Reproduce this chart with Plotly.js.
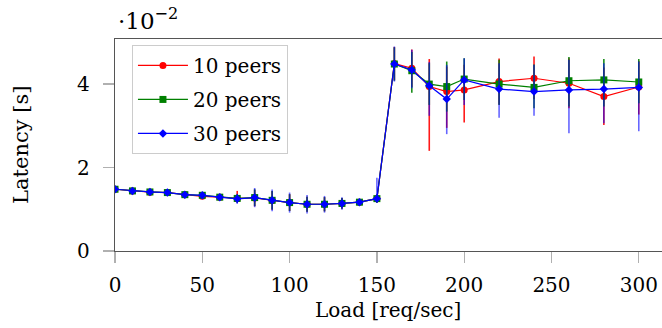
<!DOCTYPE html>
<html>
<head>
<meta charset="utf-8">
<script src="https://cdn.plot.ly/plotly-3.0.1.min.js"></script>
<style>
  html, body { margin: 0; padding: 0; background: #fff; }
  #chart { width: 662px; height: 328px; }
</style>
</head>
<body>
<div id="chart"></div>
<script>
// Load [req/sec]
const load = [0,10,20,30,40,50,60,70,80,90,100,110,120,130,140,150,160,170,180,190,200,220,240,260,280,300];

// Latency in units of 1e-2 s
const peers10 = [1.48,1.44,1.41,1.40,1.35,1.31,1.29,1.26,1.27,1.21,1.16,1.12,1.12,1.14,1.17,1.255,4.49,4.38,3.94,3.82,3.86,4.06,4.14,4.02,3.70,3.93];
const peers20 = [1.48,1.44,1.415,1.40,1.35,1.335,1.29,1.26,1.28,1.215,1.16,1.12,1.12,1.14,1.17,1.255,4.48,4.32,4.00,3.94,4.12,4.00,3.92,4.08,4.10,4.05];
const peers30 = [1.48,1.44,1.415,1.40,1.35,1.335,1.29,1.25,1.28,1.215,1.16,1.12,1.12,1.14,1.17,1.255,4.48,4.34,3.96,3.64,4.10,3.88,3.82,3.86,3.88,3.92];

// error bars (plus / minus), units of 1e-2 s
const err10Plus  = [0.04,0.04,0.04,0.04,0.04,0.06,0.05,0.18,0.2,0.22,0.2,0.18,0.17,0.13,0.06,0.1,0.4,0.45,0.66,0.6,0.6,0.55,0.52,0.6,0.7,0.62];
const err10Minus = [0.04,0.04,0.04,0.04,0.04,0.06,0.05,0.1,0.2,0.22,0.2,0.18,0.17,0.13,0.06,0.1,0.4,0.45,1.54,0.87,0.78,0.55,0.5,0.6,0.68,0.66];
const err20Plus  = [0.04,0.04,0.04,0.04,0.04,0.06,0.05,0.1,0.2,0.22,0.2,0.18,0.17,0.13,0.06,0.1,0.4,0.45,0.5,0.6,0.5,0.58,0.55,0.57,0.5,0.55];
const err20Minus = [0.04,0.04,0.04,0.04,0.04,0.06,0.05,0.1,0.2,0.22,0.2,0.18,0.17,0.13,0.06,0.1,0.4,0.53,0.5,0.6,0.5,0.5,0.5,0.62,0.64,0.51];
const err30Plus  = [0.05,0.05,0.05,0.05,0.05,0.07,0.05,0.12,0.23,0.26,0.24,0.22,0.2,0.15,0.07,0.5,0.42,0.48,0.57,0.82,0.52,0.62,0.64,0.72,0.62,0.62];
const err30Minus = [0.05,0.05,0.05,0.05,0.05,0.07,0.05,0.12,0.23,0.26,0.24,0.22,0.2,0.15,0.07,0.1,0.42,0.44,0.72,0.84,0.6,0.69,0.58,1.04,0.82,1.05];

const seriesNames = ['10 peers','20 peers','30 peers'];
const yTickVals = [0,2,4];
const yTickText = ['0','2','4'];
const xTickVals = [0,50,100,150,200,250,300];

const FONT = 'DejaVu Serif, Liberation Serif, serif';

function trace(name, y, ep, em, color, errColor, symbol, size, group) {
  return {
    type: 'scatter', mode: 'lines+markers', name: name, legendgroup: group,
    x: load, y: y,
    line: {color: color, width: 1.2},
    marker: {color: color, symbol: symbol, size: size},
    error_y: {type: 'data', symmetric: false, array: ep, arrayminus: em,
              color: errColor, thickness: 1.6, width: 0}
  };
}

const data = [
  trace(seriesNames[0], peers10, err10Plus, err10Minus, '#ff0000', 'rgba(255,0,0,0.9)', 'circle', 7, 'a'),
  trace(seriesNames[1], peers20, err20Plus, err20Minus, '#008000', 'rgba(0,128,0,0.9)', 'square', 7, 'b'),
  trace(seriesNames[2], peers30, err30Plus, err30Minus, '#0000ff', 'rgba(0,0,255,0.6)', 'diamond', 6.5, 'c')
];

const layout = {
  width: 662, height: 328,
  margin: {l: 115, r: 0, t: 39, b: 77, pad: 0},
  paper_bgcolor: '#ffffff', plot_bgcolor: '#ffffff',
  font: {family: FONT, size: 20, color: '#000'},
  showlegend: true,
  legend: {
    x: 0.031, y: 0.972, xanchor: 'left', yanchor: 'top',
    bgcolor: '#ffffff', bordercolor: '#cccccc', borderwidth: 1,
    font: {family: FONT, size: 20, color: '#000'},
    itemwidth: 50, traceorder: 'grouped', tracegroupgap: 5
  },
  xaxis: {
    range: [0, 313.3], autorange: false,
    tickvals: xTickVals,
    ticks: 'outside', ticklen: 11, tickwidth: 1.3, tickcolor: '#b0b0b0',
    showline: true, linecolor: '#555555', linewidth: 1.3, mirror: true,
    showgrid: false, zeroline: false,
    ticklabelstandoff: 5,
    tickfont: {family: FONT, size: 20, color: '#000'}
  },
  yaxis: {
    range: [0, 5.08], autorange: false,
    tickvals: yTickVals, ticktext: yTickText,
    ticks: 'outside', ticklen: 11, tickwidth: 1.3, tickcolor: '#b0b0b0',
    showline: true, linecolor: '#555555', linewidth: 1.3, mirror: false,
    showgrid: false, zeroline: false,
    ticklabelstandoff: 9,
    tickfont: {family: FONT, size: 20, color: '#000'}
  },
  annotations: [
    {text: 'Load [req/sec]', xref: 'paper', yref: 'paper', x: 0.499, y: -0.278,
     xanchor: 'center', yanchor: 'middle', showarrow: false,
     font: {family: FONT, size: 20, color: '#000'}},
    {text: 'Latency [s]', xref: 'paper', yref: 'paper', x: -0.172, y: 0.5,
     xanchor: 'center', yanchor: 'middle', textangle: -90, showarrow: false,
     font: {family: FONT, size: 21, color: '#000'}},
    {text: '·10<sup>−2</sup>', xref: 'paper', yref: 'paper', x: 0.002, y: 1.094,
     xanchor: 'left', yanchor: 'middle', showarrow: false,
     font: {family: FONT, size: 23, color: '#000'}}
  ]
};

Plotly.newPlot('chart', data, layout, {displayModeBar: false, staticPlot: true});
</script>
</body>
</html>
